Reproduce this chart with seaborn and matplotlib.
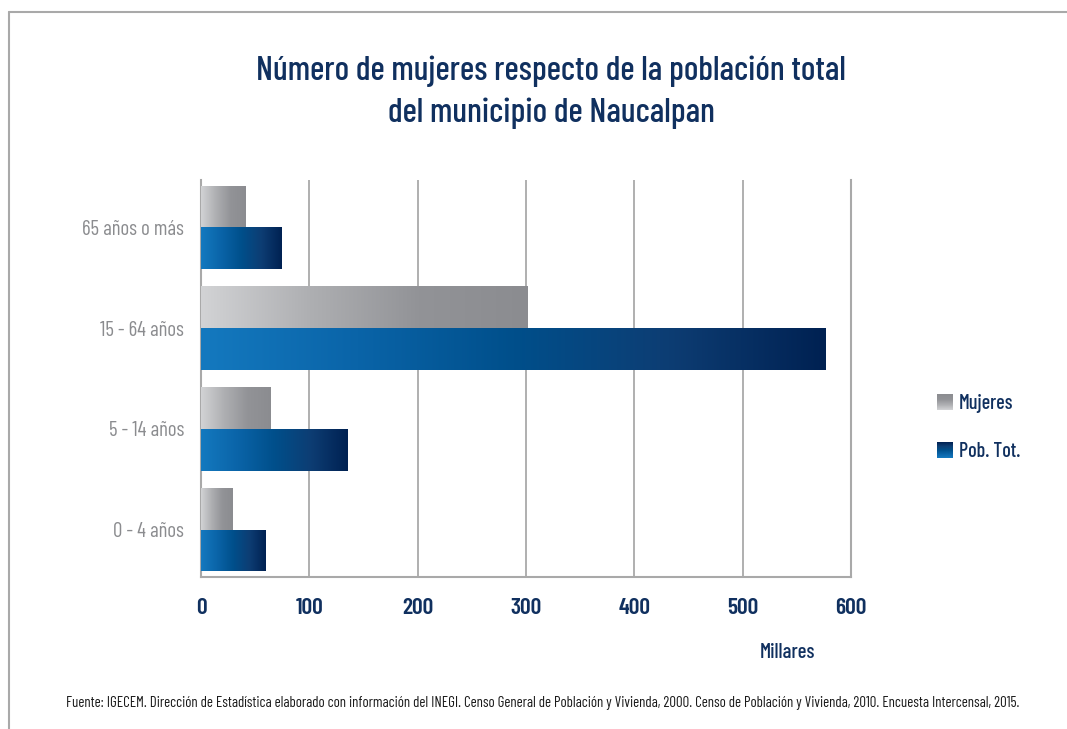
import matplotlib
matplotlib.use("Agg")
import matplotlib.pyplot as plt
from matplotlib import font_manager
from matplotlib.colors import LinearSegmentedColormap
from matplotlib.image import BboxImage
from matplotlib.transforms import Bbox, TransformedBbox
from matplotlib.lines import Line2D
from matplotlib.patches import Patch
import numpy as np
import pandas as pd
import seaborn as sns

# datos (miles de habitantes)
categories = ["65 años o más", "15 - 64 años", "5 - 14 años", "0 - 4 años"]
series = ["Mujeres", "Pob. Tot."]
mujeres = [41, 301, 64, 29]
pob_tot = [74, 576, 135, 60]
x_ticks = [0, 100, 200, 300, 400, 500, 600]

title = "Número de mujeres respecto de la población total\ndel municipio de Naucalpan"
source = ("Fuente: IGECEM. Dirección de Estadística elaborado con información del INEGI. "
          "Censo General de Población y Vivienda, 2000. Censo de Población y Vivienda, 2010. "
          "Encuesta Intercensal, 2015.")

NAVY = "#10305f"
GRAY_TXT = "#8b8c8f"
LINE = "#a9a9a9"

sns.set_theme(style="white")
names = {f.name for f in font_manager.fontManager.ttflist}
font = "DejaVu Sans"
for cand in ["Barlow Condensed", "Archivo Narrow", "Asap Condensed"]:
    if cand in names:
        font = cand
        break
plt.rcParams["font.family"] = [font, "DejaVu Sans"]

gray_cmap = LinearSegmentedColormap.from_list("gris", ["#d2d3d5", "#aeafb2", "#929397", "#8b8c90"])
blue_cmap = LinearSegmentedColormap.from_list("azul", ["#1479bf", "#0a64a8", "#004f8b", "#0d3d73", "#002152"])
cmaps = [gray_cmap, blue_cmap]

df = pd.DataFrame({
    "Edad": categories * 2,
    "Serie": [series[0]] * len(categories) + [series[1]] * len(categories),
    "Valor": mujeres + pob_tot,
})

fig = plt.figure(figsize=(10.67, 7.29), dpi=100)
ax = fig.add_axes([201 / 1067, 1 - 577 / 729, 650 / 1067, 397 / 729])

sns.barplot(data=df, y="Edad", x="Valor", hue="Serie", order=categories,
            hue_order=series, palette=["#8b8c90", "#00508a"], width=0.83,
            saturation=1, legend=False, ax=ax, zorder=3)

# degradado horizontal en cada barra
grad = np.linspace(0, 1, 256).reshape(1, -1)
for container, cmap in zip(ax.containers, cmaps):
    for rect in container:
        x0, y0 = rect.get_x(), rect.get_y()
        w, h = rect.get_width(), rect.get_height()
        im = ax.imshow(grad, cmap=cmap, extent=(x0, x0 + w, y0 + h, y0),
                       aspect="auto", interpolation="bicubic", zorder=4)
        im.set_clip_path(rect)
        rect.set_edgecolor("none")

ax.set_xlim(0, 600)
ax.set_ylim(3.47, -0.47)
ax.set_xticks(x_ticks)
ax.set_xlabel("")
ax.set_ylabel("")
ax.xaxis.grid(True, color=LINE, lw=1.3)
ax.yaxis.grid(False)
ax.set_axisbelow(True)
for side in ["left", "bottom", "right"]:
    ax.spines[side].set_color(LINE)
    ax.spines[side].set_linewidth(1.5)
ax.spines["top"].set_visible(False)

ax.tick_params(axis="x", length=0, pad=15, labelsize=17, labelcolor=NAVY)
ax.tick_params(axis="y", length=0, pad=12, labelsize=15, labelcolor=GRAY_TXT)
for lbl in ax.get_xticklabels():
    lbl.set_fontweight(600)


class GradHandler:
    def __init__(self, cmap):
        self.cmap = cmap

    def legend_artist(self, legend, orig_handle, fontsize, handlebox):
        x0, y0 = handlebox.xdescent, handlebox.ydescent
        w, h = handlebox.width, handlebox.height
        bbox = TransformedBbox(Bbox.from_bounds(-x0, -y0, w, h), handlebox.get_transform())
        img = BboxImage(bbox, cmap=self.cmap, interpolation="bicubic")
        img.set_data(np.linspace(1, 0, 64).reshape(-1, 1))
        handlebox.add_artist(img)
        return img


handles = [Patch(label=s) for s in series]
leg = fig.legend(handles=handles, labels=series, loc="upper left",
                 bbox_to_anchor=(927 / 1067, 1 - 384 / 729), frameon=False,
                 fontsize=14.5, handlelength=0.78, handleheight=0.78,
                 handletextpad=0.3, labelspacing=1.45, borderpad=0,
                 handler_map={handles[0]: GradHandler(gray_cmap),
                              handles[1]: GradHandler(blue_cmap)})
for t in leg.get_texts():
    t.set_color(NAVY)
    t.set_fontweight(500)

fig.text(551 / 1067, 1 - 92 / 729, title, ha="center", va="center",
         fontsize=24.5, color=NAVY, linespacing=1.42, fontweight=500)
fig.text(787 / 1067, 1 - 652 / 729, "Millares", ha="center", va="center",
         fontsize=15, color=NAVY, fontweight=500)
fig.text(66 / 1067, 1 - 703 / 729, source, ha="left", va="center",
         fontsize=10.7, color="#1a1a1a")

# marco parcial
fig.add_artist(Line2D([9 / 1067, 1], [1 - 12 / 729] * 2, transform=fig.transFigure,
                      color=LINE, lw=1.5))
fig.add_artist(Line2D([9 / 1067] * 2, [0, 1 - 12 / 729], transform=fig.transFigure,
                      color=LINE, lw=1.5))

fig.savefig("out.png", dpi=100)
